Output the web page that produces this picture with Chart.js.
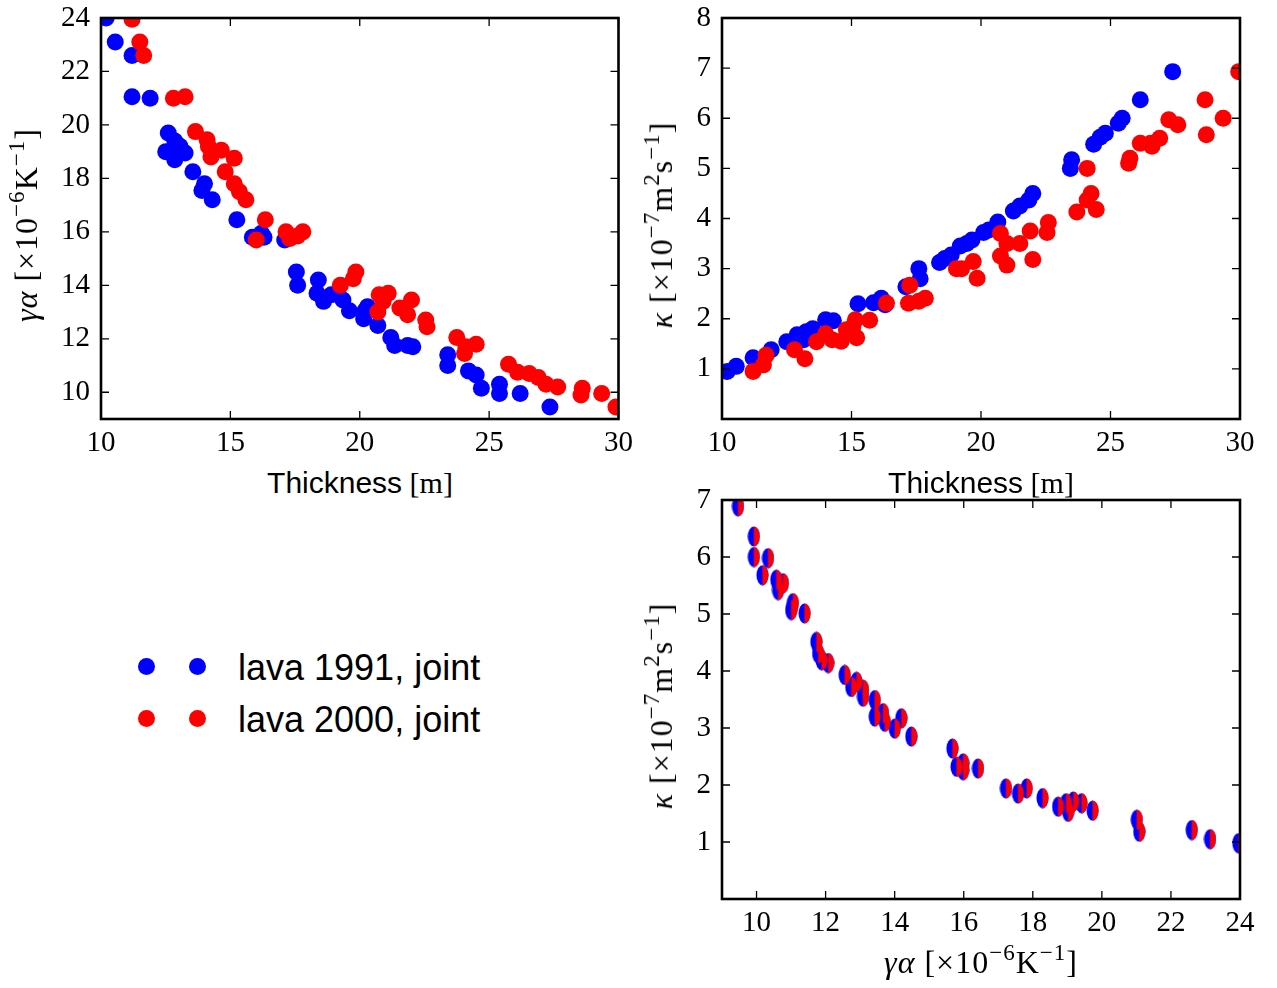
<!DOCTYPE html>
<html lang="en">
<head>
<meta charset="utf-8">
<title>Lava joints: thickness, γα and κ</title>
<script src="https://cdn.jsdelivr.net/npm/chart.js@4.4.1/dist/chart.umd.min.js"></script>
<style>
  html, body { margin: 0; padding: 0; background: #fff; }
  #page { position: relative; width: 1277px; height: 988px; overflow: hidden; }
  #page canvas { position: absolute; }
  .lbl { position: absolute; white-space: nowrap; color: #000; font: 30px/1 'Liberation Serif', serif; transform: translate(-50%, -50%); }
  .lbl.math { font-size: 32px; letter-spacing: 1px; }
  .lbl.rot { transform: translate(-50%, -50%) rotate(-90deg); }
  .lbl sup { font-size: 72%; position: relative; top: -0.55em; vertical-align: baseline; line-height: 0; }
  .sans { font-family: 'Liberation Sans', Arial, sans-serif; }
  .key { position: absolute; left: 238px; font: 36px/1 'Liberation Sans', Arial, sans-serif; color: #000; white-space: nowrap; }
  .dot { position: absolute; width: 17px; height: 17px; border-radius: 50%; }
</style>
</head>
<body>
<div id="page">
  <canvas id="thickGa" width="640" height="471" style="left:0;top:-11px"></canvas>
  <canvas id="thickKappa" width="637" height="471" style="left:640px;top:-11px"></canvas>
  <canvas id="gaKappa" width="637" height="518" style="left:640px;top:470px"></canvas>

  <div class="lbl rot math" style="left:26px;top:225px"><i>γα</i> [×10<sup>−6</sup>K<sup>−1</sup>]</div>
  <div class="lbl" style="left:360px;top:483px"><span class="sans">Thickness</span> [m]</div>
  <div class="lbl rot math" style="left:661px;top:225px"><i>κ</i> [×10<sup>−7</sup>m<sup>2</sup>s<sup>−1</sup>]</div>
  <div class="lbl" style="left:981px;top:483px"><span class="sans">Thickness</span> [m]</div>
  <div class="lbl rot math" style="left:661px;top:706px"><i>κ</i> [×10<sup>−7</sup>m<sup>2</sup>s<sup>−1</sup>]</div>
  <div class="lbl math" style="left:981px;top:962px"><i>γα</i> [×10<sup>−6</sup>K<sup>−1</sup>]</div>

  <div id="legend"></div>
</div>
<script>
// Top left panel: thickness [m] against gamma*alpha [1e-6 K^-1]
var thick1991A = [10.2, 10.55, 11.2, 11.2, 11.9, 12.6, 12.5, 12.85, 13.05, 13.25, 12.85, 13.55, 14.0, 13.9, 14.3,
  15.25, 15.85, 16.2, 16.3, 17.1, 17.55, 17.6, 18.4, 18.35, 18.6, 18.9, 19.35, 19.6, 20.2, 20.15, 20.3, 20.7,
  21.2, 21.35, 21.85, 22.05, 23.4, 23.4, 24.2, 24.5, 24.7, 25.4, 25.4, 26.2, 27.35];
var gammaAlpha1991 = [24.0, 23.1, 22.6, 21.05, 21.0, 19.7, 19.0, 19.4, 19.2, 18.95, 18.7, 18.25, 17.8, 17.55, 17.2,
  16.45, 15.8, 15.95, 15.8, 15.7, 14.5, 14.0, 14.2, 13.7, 13.4, 13.65, 13.45, 13.05, 13.05, 12.75, 13.2, 12.5,
  12.05, 11.75, 11.75, 11.7, 11.4, 11.0, 10.8, 10.65, 10.15, 10.3, 9.95, 9.95, 9.45];
var thick2000A = [11.2, 11.5, 11.65, 12.8, 13.25, 13.65, 14.1, 14.15, 14.25, 14.65, 15.15, 14.8, 15.15, 15.35, 15.6,
  16.35, 16.0, 17.15, 17.3, 17.6, 17.8, 19.25, 19.75, 19.85, 20.75, 21.1, 20.7, 20.9, 21.55, 22.0, 21.85, 22.55,
  22.6, 23.75, 24.05, 24.5, 24.1, 25.75, 26.1, 26.55, 26.9, 27.2, 27.65, 28.6, 28.55, 29.35, 29.9];
var gammaAlpha2000 = [23.95, 23.1, 22.6, 21.0, 21.05, 19.75, 19.45, 19.2, 18.8, 19.05, 18.75, 18.25, 17.8, 17.5, 17.2,
  16.45, 15.7, 16.0, 15.75, 15.85, 16.0, 14.0, 14.25, 14.5, 13.65, 13.7, 13.0, 13.4, 13.15, 13.45, 12.9, 12.7,
  12.45, 12.05, 11.45, 11.8, 11.7, 11.05, 10.75, 10.7, 10.55, 10.3, 10.2, 10.15, 9.9, 9.95, 9.45];

// Top right panel: thickness [m] against kappa [1e-7 m^2 s^-1]
var thick1991K = [10.2, 10.55, 11.2, 11.9, 12.5, 12.9, 13.15, 13.25, 13.5, 14.0, 14.3, 15.25, 15.85, 16.15, 16.3,
  17.1, 17.6, 17.65, 18.4, 18.6, 18.85, 19.2, 19.45, 19.65, 20.1, 20.3, 20.65, 21.25, 21.5, 21.85, 22.0, 23.45,
  23.5, 24.35, 24.6, 24.8, 25.3, 25.45, 26.15, 27.4];
var kappa1991 = [0.95, 1.05, 1.22, 1.38, 1.54, 1.68, 1.58, 1.74, 1.8, 1.98, 1.96, 2.3, 2.32, 2.41, 2.28,
  2.64, 3.0, 2.8, 3.12, 3.2, 3.27, 3.45, 3.5, 3.57, 3.72, 3.77, 3.93, 4.15, 4.25, 4.37, 4.5, 5.0,
  5.17, 5.48, 5.62, 5.7, 5.9, 6.0, 6.37, 6.93];
var thick2000K = [11.2, 11.6, 11.7, 12.8, 13.2, 13.65, 14.0, 14.25, 14.6, 14.8, 15.05, 15.15, 15.2, 15.7, 16.35,
  17.2, 17.25, 17.6, 17.85, 19.05, 19.25, 19.7, 19.85, 20.75, 20.75, 21.0, 21.0, 21.5, 21.9, 22.0, 22.55, 22.6,
  23.7, 24.1, 24.25, 24.45, 24.1, 25.7, 25.75, 26.15, 26.55, 26.6, 26.9, 27.25, 27.6, 28.65, 28.7, 29.35, 29.95];
var kappa2000 = [0.95, 1.08, 1.27, 1.38, 1.2, 1.54, 1.7, 1.58, 1.55, 1.78, 1.84, 1.98, 1.62, 1.97, 2.31,
  2.31, 2.67, 2.35, 2.41, 3.0, 3.0, 3.14, 2.81, 3.25, 3.7, 3.07, 3.5, 3.5, 3.75, 3.18, 3.72, 3.92,
  4.13, 4.37, 4.5, 4.18, 5.0, 5.1, 5.2, 5.5, 5.5, 5.44, 5.6, 5.97, 5.87, 6.37, 5.67, 6.0, 6.93];

// Bottom right panel: both lavas give the same (gamma*alpha, kappa) pairs
var jointGammaAlpha = [9.46, 9.92, 9.92, 10.33, 10.17, 10.57, 10.76, 10.62, 11.05, 11.0, 11.39, 11.73, 11.78, 11.88,
  12.07, 12.55, 12.74, 12.89, 13.08, 13.08, 13.42, 13.42, 13.66, 13.71, 14.0, 14.19, 14.48, 15.67, 15.79, 15.98,
  15.98, 16.41, 17.22, 17.57, 17.82, 18.28, 18.73, 18.96, 19.02, 19.17, 19.41, 19.73, 21.01, 21.08, 22.6, 23.13, 23.95];
var jointKappa = [6.89, 6.36, 6.0, 5.98, 5.68, 5.6, 5.54, 5.42, 5.19, 5.07, 5.01, 4.51, 4.31, 4.19,
  4.14, 3.93, 3.72, 3.81, 3.67, 3.55, 3.49, 3.2, 3.26, 3.11, 2.99, 3.17, 2.85, 2.64, 2.32, 2.38,
  2.26, 2.29, 1.94, 1.85, 1.94, 1.77, 1.62, 1.68, 1.53, 1.71, 1.68, 1.55, 1.39, 1.18, 1.21, 1.05, 0.98];

// tick labels
var thickTicks = [10, 15, 20, 25, 30];
var gammaAlphaTicks = [10, 12, 14, 16, 18, 20, 22, 24];
var kappaTicksTop = [1, 2, 3, 4, 5, 6, 7, 8];
var kappaTicksBottom = [1, 2, 3, 4, 5, 6, 7];

var seriesNames = ['lava 1991, joint', 'lava 2000, joint'];
var seriesColors = ['#0000ff', '#ff0000'];

function zip(xs, ys) {
  return xs.map(function (x, i) { return { x: x, y: ys[i] }; });
}

// matplotlib style box: frame on all four sides, ticks pointing inwards
var frameTicks = {
  id: 'frameTicks',
  afterDatasetsDraw: function (chart) {
    var a = chart.chartArea, ctx = chart.ctx;
    var xs = chart.scales.x, ys = chart.scales.y;
    ctx.save();
    ctx.strokeStyle = '#000';
    ctx.lineWidth = 1.3;
    ctx.beginPath();
    xs.ticks.forEach(function (t) {
      var p = xs.getPixelForValue(t.value);
      ctx.moveTo(p, a.bottom); ctx.lineTo(p, a.bottom - 8);
      ctx.moveTo(p, a.top); ctx.lineTo(p, a.top + 8);
    });
    ys.ticks.forEach(function (t) {
      var p = ys.getPixelForValue(t.value);
      ctx.moveTo(a.left, p); ctx.lineTo(a.left + 8, p);
      ctx.moveTo(a.right, p); ctx.lineTo(a.right - 8, p);
    });
    ctx.stroke();
    ctx.lineWidth = 2.6;
    ctx.strokeRect(a.left, a.top, a.right - a.left, a.bottom - a.top);
    ctx.restore();
  }
};

var tickFont = { family: "'Liberation Serif', 'Times New Roman', serif", size: 29, lineHeight: 1.2 };

function axis(min, max, values, size, horizontal) {
  return {
    type: 'linear',
    position: horizontal ? 'bottom' : 'left',
    min: min,
    max: max,
    grid: { display: false, drawTicks: false },
    border: { display: false },
    ticks: { font: tickFont, color: '#000', padding: horizontal ? 7 : 11, maxRotation: 0, autoSkip: false },
    afterBuildTicks: function (s) { s.ticks = values.map(function (v) { return { value: v }; }); },
    afterFit: function (s) { if (horizontal) s.height = size; else s.width = size; }
  };
}

function panel(id, datasets, padding, x, y) {
  return new Chart(document.getElementById(id), {
    type: 'scatter',
    data: { datasets: datasets },
    options: {
      responsive: false,
      animation: false,
      devicePixelRatio: 1,
      events: [],
      layout: { padding: padding },
      plugins: { legend: { display: false }, tooltip: { enabled: false } },
      scales: { x: x, y: y }
    },
    plugins: [frameTicks]
  });
}

// lower order is drawn last, so the 2000 series sits on top like in the figure
function dots(label, data, color, order) {
  return { label: label, data: data, order: order, pointRadius: 8.5, pointBorderWidth: 0,
           pointBackgroundColor: color, showLine: false };
}

// the joint markers overlap exactly: blue ellipse with the red one's right half on top
function ellipseMark(color, rightHalfOnly) {
  var c = document.createElement('canvas');
  c.width = 13; c.height = 21;
  var g = c.getContext('2d');
  if (rightHalfOnly) { g.beginPath(); g.rect(6.5, 0, 7, 21); g.clip(); }
  g.fillStyle = color;
  g.beginPath();
  g.ellipse(6.5, 10.5, 6, 10, 0, 0, Math.PI * 2);
  g.fill();
  return c;
}

panel('thickGa', [
  dots(seriesNames[0], zip(thick1991A, gammaAlpha1991), seriesColors[0], 1),
  dots(seriesNames[1], zip(thick2000A, gammaAlpha2000), seriesColors[1], 0)
], { top: 29, right: 21, bottom: 0, left: 0 },
  axis(10, 30, thickTicks, 41, true), axis(9, 24, gammaAlphaTicks, 101, false));

panel('thickKappa', [
  dots(seriesNames[0], zip(thick1991K, kappa1991), seriesColors[0], 1),
  dots(seriesNames[1], zip(thick2000K, kappa2000), seriesColors[1], 0)
], { top: 29, right: 37, bottom: 0, left: 0 },
  axis(10, 30, thickTicks, 41, true), axis(0, 8, kappaTicksTop, 82, false));

var joint = zip(jointGammaAlpha, jointKappa);
panel('gaKappa', [
  { label: seriesNames[0], data: joint, order: 1, pointStyle: ellipseMark(seriesColors[0], false), pointRadius: 8, showLine: false },
  { label: seriesNames[1], data: joint, order: 0, pointStyle: ellipseMark(seriesColors[1], true), pointRadius: 8, showLine: false }
], { top: 30, right: 37, bottom: 0, left: 0 },
  axis(9, 24, gammaAlphaTicks, 89, true), axis(0, 7, kappaTicksBottom, 82, false));

// legend: two markers per entry, as matplotlib draws it
var legend = document.getElementById('legend');
legend.innerHTML = seriesNames.map(function (name, i) {
  var cy = 666 + i * 52;
  return '<span class="dot" style="left:137.5px;top:' + (cy - 8.5) + 'px;background:' + seriesColors[i] + '"></span>'
    + '<span class="dot" style="left:188.5px;top:' + (cy - 8.5) + 'px;background:' + seriesColors[i] + '"></span>'
    + '<div class="key" style="top:' + (cy - 16) + 'px">' + name + '</div>';
}).join('');
</script>
</body>
</html>
